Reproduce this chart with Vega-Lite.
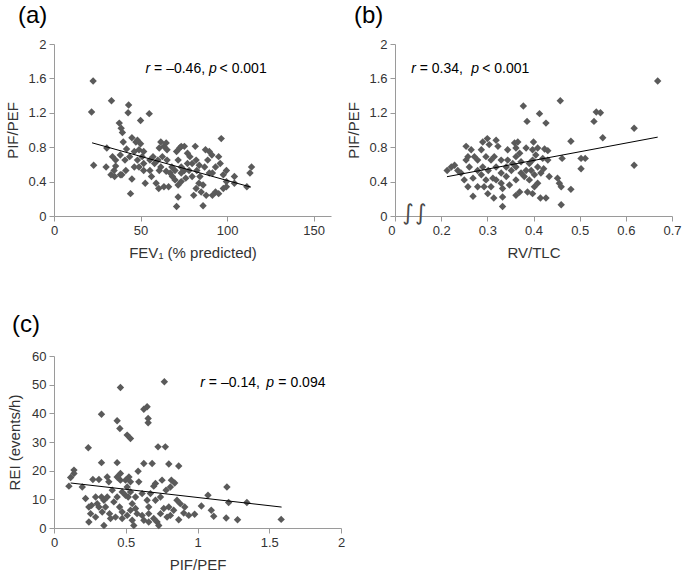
{
  "$schema": "https://vega.github.io/schema/vega-lite/v6.json",
  "padding": {"left": 5, "top": 4, "right": 2, "bottom": 5},
  "background": "white",
  "config": {
    "font": "Liberation Sans",
    "view": {"stroke": null},
    "axis": {"grid": false, "domainColor": "#9a9a9a", "tickColor": "#9a9a9a", "labelColor": "#333333", "titleColor": "#333333", "labelFontSize": 13, "titleFontSize": 15, "titleFontWeight": "normal", "labelFont": "Liberation Sans", "titleFont": "Liberation Sans", "tickSize": 5, "labelPadding": 3, "labelFlush": false, "labelOverlap": false, "labelBound": false, "tickCount": 20},
    "title": {"fontSize": 24, "fontWeight": "normal", "font": "Liberation Sans", "color": "#000000", "anchor": "start", "frame": "group"}
  },
  "datasets": {
    "a": [
      {"fev1":22.6,"ratio":1.57},{"fev1":21.7,"ratio":1.21},{"fev1":33.2,"ratio":1.34},{"fev1":43.1,"ratio":1.29},{"fev1":42.8,"ratio":1.20},{"fev1":50,"ratio":1.11},{"fev1":55,"ratio":1.19},{"fev1":37.7,"ratio":1.08},{"fev1":38.8,"ratio":1.02},{"fev1":39.5,"ratio":0.97},
      {"fev1":22.9,"ratio":0.59},{"fev1":30.1,"ratio":0.57},{"fev1":30.5,"ratio":0.79},{"fev1":35.6,"ratio":0.58},{"fev1":34.7,"ratio":0.53},{"fev1":35,"ratio":0.46},{"fev1":38.3,"ratio":0.48},{"fev1":41.5,"ratio":0.53},{"fev1":45,"ratio":0.43},{"fev1":44.2,"ratio":0.26},
      {"fev1":40,"ratio":0.86},{"fev1":45,"ratio":0.91},{"fev1":47.3,"ratio":0.86},{"fev1":48.2,"ratio":0.88},{"fev1":41.9,"ratio":0.78},{"fev1":43.7,"ratio":0.69},{"fev1":38.3,"ratio":0.71},{"fev1":33.8,"ratio":0.69},{"fev1":35.6,"ratio":0.65},{"fev1":46.4,"ratio":0.75},
      {"fev1":49.1,"ratio":0.77},{"fev1":51.8,"ratio":0.75},{"fev1":50.9,"ratio":0.69},{"fev1":48.2,"ratio":0.65},{"fev1":51.8,"ratio":0.61},{"fev1":46.4,"ratio":0.57},{"fev1":52.7,"ratio":0.38},{"fev1":55.4,"ratio":0.53},{"fev1":58.1,"ratio":0.61},{"fev1":57.2,"ratio":0.69},
      {"fev1":59,"ratio":0.38},{"fev1":60.5,"ratio":0.32},{"fev1":61.7,"ratio":0.86},{"fev1":60.8,"ratio":0.79},{"fev1":63.5,"ratio":0.81},{"fev1":64.8,"ratio":0.85},{"fev1":65.3,"ratio":0.77},{"fev1":62.6,"ratio":0.69},{"fev1":65.3,"ratio":0.65},{"fev1":61.7,"ratio":0.57},
      {"fev1":64.8,"ratio":0.52},{"fev1":63.5,"ratio":0.34},{"fev1":66.2,"ratio":0.34},{"fev1":68.4,"ratio":0.46},{"fev1":69.9,"ratio":0.53},{"fev1":71.7,"ratio":0.65},{"fev1":70.8,"ratio":0.75},{"fev1":72.6,"ratio":0.79},{"fev1":73.5,"ratio":0.81},{"fev1":75.3,"ratio":0.81},
      {"fev1":77.1,"ratio":0.73},{"fev1":73.5,"ratio":0.57},{"fev1":69.9,"ratio":0.42},{"fev1":71.7,"ratio":0.36},{"fev1":73.5,"ratio":0.40},{"fev1":76.1,"ratio":0.44},{"fev1":71.7,"ratio":0.22},{"fev1":70.8,"ratio":0.11},{"fev1":78,"ratio":0.53},{"fev1":79.8,"ratio":0.61},
      {"fev1":82.1,"ratio":0.65},{"fev1":81.6,"ratio":0.81},{"fev1":82.5,"ratio":0.53},{"fev1":84.3,"ratio":0.46},{"fev1":82.1,"ratio":0.32},{"fev1":80.7,"ratio":0.24},{"fev1":86.1,"ratio":0.12},{"fev1":86.1,"ratio":0.36},{"fev1":87,"ratio":0.57},{"fev1":87.5,"ratio":0.77},
      {"fev1":89.7,"ratio":0.75},{"fev1":91.2,"ratio":0.71},{"fev1":88.8,"ratio":0.65},{"fev1":89.7,"ratio":0.50},{"fev1":87.9,"ratio":0.24},{"fev1":93.3,"ratio":0.28},{"fev1":91.5,"ratio":0.24},{"fev1":95.1,"ratio":0.26},{"fev1":96.6,"ratio":0.90},{"fev1":95.1,"ratio":0.69},
      {"fev1":96,"ratio":0.61},{"fev1":93.3,"ratio":0.57},{"fev1":97.8,"ratio":0.32},{"fev1":99.6,"ratio":0.34},{"fev1":99.6,"ratio":0.53},{"fev1":104.2,"ratio":0.46},{"fev1":111.4,"ratio":0.34},{"fev1":113.2,"ratio":0.50},{"fev1":114.1,"ratio":0.57},{"fev1":99.6,"ratio":0.40},
      {"fev1":97.8,"ratio":0.48},{"fev1":56.3,"ratio":0.46},{"fev1":60.8,"ratio":0.53},{"fev1":49.1,"ratio":0.57},{"fev1":51.8,"ratio":0.53},{"fev1":39.2,"ratio":0.48},{"fev1":32.9,"ratio":0.48},{"fev1":41,"ratio":0.65},{"fev1":50,"ratio":0.84},{"fev1":75.3,"ratio":0.53},
      {"fev1":73.5,"ratio":0.50},{"fev1":79.8,"ratio":0.46},{"fev1":83.7,"ratio":0.38},{"fev1":85,"ratio":0.28},{"fev1":68.1,"ratio":0.57},{"fev1":67.1,"ratio":0.50},{"fev1":55.4,"ratio":0.65},{"fev1":60,"ratio":0.65},{"fev1":78.5,"ratio":0.69},{"fev1":83.9,"ratio":0.59},
      {"fev1":104.2,"ratio":0.38},{"fev1":91.5,"ratio":0.50},{"fev1":77.1,"ratio":0.61}
    ],
    "aLine": [{"fev1":22.0,"ratio":0.851},{"fev1":113.7,"ratio":0.336}],
    "aAnn": [{"fev1":52.9,"ratio":1.66,"s1":"r","s2":"= \u20130.46,","s3":"p","s4":"< 0.001"}],
    "b": [
      {"rvtlc":0.669,"ratio":1.57},{"rvtlc":0.458,"ratio":1.34},{"rvtlc":0.378,"ratio":1.28},{"rvtlc":0.413,"ratio":1.19},{"rvtlc":0.386,"ratio":1.10},{"rvtlc":0.427,"ratio":1.08},{"rvtlc":0.536,"ratio":1.21},{"rvtlc":0.545,"ratio":1.20},{"rvtlc":0.531,"ratio":1.10},{"rvtlc":0.618,"ratio":1.02},
      {"rvtlc":0.55,"ratio":0.91},{"rvtlc":0.481,"ratio":0.87},{"rvtlc":0.618,"ratio":0.59},{"rvtlc":0.503,"ratio":0.67},{"rvtlc":0.512,"ratio":0.67},{"rvtlc":0.503,"ratio":0.55},{"rvtlc":0.462,"ratio":0.67},{"rvtlc":0.213,"ratio":0.53},{"rvtlc":0.229,"ratio":0.59},{"rvtlc":0.236,"ratio":0.53},
      {"rvtlc":0.243,"ratio":0.50},{"rvtlc":0.254,"ratio":0.81},{"rvtlc":0.258,"ratio":0.69},{"rvtlc":0.254,"ratio":0.65},{"rvtlc":0.261,"ratio":0.57},{"rvtlc":0.269,"ratio":0.44},{"rvtlc":0.258,"ratio":0.34},{"rvtlc":0.269,"ratio":0.23},{"rvtlc":0.29,"ratio":0.86},{"rvtlc":0.3,"ratio":0.90},
      {"rvtlc":0.287,"ratio":0.77},{"rvtlc":0.297,"ratio":0.69},{"rvtlc":0.279,"ratio":0.65},{"rvtlc":0.29,"ratio":0.57},{"rvtlc":0.302,"ratio":0.53},{"rvtlc":0.287,"ratio":0.48},{"rvtlc":0.297,"ratio":0.42},{"rvtlc":0.293,"ratio":0.34},{"rvtlc":0.308,"ratio":0.34},{"rvtlc":0.314,"ratio":0.21},
      {"rvtlc":0.319,"ratio":0.88},{"rvtlc":0.323,"ratio":0.81},{"rvtlc":0.315,"ratio":0.69},{"rvtlc":0.33,"ratio":0.65},{"rvtlc":0.319,"ratio":0.57},{"rvtlc":0.33,"ratio":0.50},{"rvtlc":0.319,"ratio":0.42},{"rvtlc":0.33,"ratio":0.38},{"rvtlc":0.333,"ratio":0.32},{"rvtlc":0.333,"ratio":0.22},
      {"rvtlc":0.333,"ratio":0.11},{"rvtlc":0.344,"ratio":0.77},{"rvtlc":0.344,"ratio":0.65},{"rvtlc":0.352,"ratio":0.53},{"rvtlc":0.341,"ratio":0.46},{"rvtlc":0.359,"ratio":0.85},{"rvtlc":0.366,"ratio":0.86},{"rvtlc":0.362,"ratio":0.79},{"rvtlc":0.37,"ratio":0.73},{"rvtlc":0.362,"ratio":0.69},
      {"rvtlc":0.373,"ratio":0.63},{"rvtlc":0.362,"ratio":0.57},{"rvtlc":0.373,"ratio":0.50},{"rvtlc":0.362,"ratio":0.42},{"rvtlc":0.37,"ratio":0.28},{"rvtlc":0.362,"ratio":0.24},{"rvtlc":0.384,"ratio":0.53},{"rvtlc":0.38,"ratio":0.46},{"rvtlc":0.391,"ratio":0.61},{"rvtlc":0.4,"ratio":0.86},
      {"rvtlc":0.398,"ratio":0.77},{"rvtlc":0.409,"ratio":0.79},{"rvtlc":0.405,"ratio":0.71},{"rvtlc":0.398,"ratio":0.65},{"rvtlc":0.395,"ratio":0.53},{"rvtlc":0.402,"ratio":0.48},{"rvtlc":0.391,"ratio":0.42},{"rvtlc":0.402,"ratio":0.34},{"rvtlc":0.409,"ratio":0.38},{"rvtlc":0.398,"ratio":0.26},
      {"rvtlc":0.415,"ratio":0.21},{"rvtlc":0.427,"ratio":0.21},{"rvtlc":0.422,"ratio":0.55},{"rvtlc":0.424,"ratio":0.78},{"rvtlc":0.431,"ratio":0.76},{"rvtlc":0.42,"ratio":0.67},{"rvtlc":0.452,"ratio":0.44},{"rvtlc":0.456,"ratio":0.38},{"rvtlc":0.46,"ratio":0.34},{"rvtlc":0.481,"ratio":0.31},
      {"rvtlc":0.46,"ratio":0.13},{"rvtlc":0.272,"ratio":0.69},{"rvtlc":0.279,"ratio":0.53},{"rvtlc":0.308,"ratio":0.65},{"rvtlc":0.341,"ratio":0.57},{"rvtlc":0.312,"ratio":0.44},{"rvtlc":0.25,"ratio":0.42},{"rvtlc":0.416,"ratio":0.50},{"rvtlc":0.434,"ratio":0.46},{"rvtlc":0.348,"ratio":0.36},
      {"rvtlc":0.355,"ratio":0.61},{"rvtlc":0.304,"ratio":0.83},{"rvtlc":0.384,"ratio":0.79},{"rvtlc":0.409,"ratio":0.57},{"rvtlc":0.431,"ratio":0.65},{"rvtlc":0.301,"ratio":0.26},{"rvtlc":0.222,"ratio":0.57},{"rvtlc":0.265,"ratio":0.77},{"rvtlc":0.387,"ratio":0.28},{"rvtlc":0.279,"ratio":0.34}
    ],
    "bLine": [{"rvtlc":0.2126,"ratio":0.457},{"rvtlc":0.669,"ratio":0.917}],
    "bAnn": [{"rvtlc":0.135,"ratio":1.66,"s1":"r","s2":"= 0.34,","s3":"p","s4":"< 0.001"}],
    "bBreak": [{"rvtlc":0.128,"ratio":0.04,"sym":"\u222b"},{"rvtlc":0.156,"ratio":0.04,"sym":"\u222b"}],
    "c": [
      {"ratio":0.769,"rei":51.0},{"ratio":0.463,"rei":49.0},{"ratio":0.331,"rei":39.7},{"ratio":0.44,"rei":37.4},{"ratio":0.459,"rei":34.7},{"ratio":0.51,"rei":32.4},{"ratio":0.533,"rei":31.2},{"ratio":0.626,"rei":41.4},{"ratio":0.649,"rei":42.3},{"ratio":0.656,"rei":38.2},
      {"ratio":0.656,"rei":36.7},{"ratio":0.239,"rei":28.0},{"ratio":0.725,"rei":28.3},{"ratio":0.776,"rei":28.3},{"ratio":0.331,"rei":22.8},{"ratio":0.44,"rei":22.8},{"ratio":0.626,"rei":22.5},{"ratio":0.684,"rei":22.5},{"ratio":0.8,"rei":22.3},{"ratio":0.869,"rei":21.6},
      {"ratio":0.139,"rei":20.2},{"ratio":0.139,"rei":19.0},{"ratio":0.586,"rei":19.8},{"ratio":0.463,"rei":19.0},{"ratio":0.116,"rei":17.6},{"ratio":0.271,"rei":16.9},{"ratio":0.313,"rei":16.9},{"ratio":0.371,"rei":17.8},{"ratio":0.382,"rei":16.1},{"ratio":0.44,"rei":17.8},
      {"ratio":0.463,"rei":16.7},{"ratio":0.522,"rei":17.8},{"ratio":0.498,"rei":16.7},{"ratio":0.533,"rei":16.1},{"ratio":0.104,"rei":14.6},{"ratio":0.197,"rei":14.3},{"ratio":0.695,"rei":14.6},{"ratio":0.707,"rei":15.5},{"ratio":0.818,"rei":16.7},{"ratio":0.841,"rei":15.7},
      {"ratio":0.811,"rei":14.3},{"ratio":0.781,"rei":13.2},{"ratio":0.753,"rei":16.7},{"ratio":1.205,"rei":14.3},{"ratio":1.073,"rei":11.4},{"ratio":1.344,"rei":8.9},{"ratio":1.217,"rei":8.9},{"ratio":1.583,"rei":3.0},{"ratio":1.279,"rei":2.9},{"ratio":1.2,"rei":3.5},
      {"ratio":1.113,"rei":4.1},{"ratio":1.096,"rei":6.2},{"ratio":1.027,"rei":7.7},{"ratio":0.98,"rei":4.8},{"ratio":0.911,"rei":7.3},{"ratio":0.904,"rei":5.2},{"ratio":0.869,"rei":2.9},{"ratio":0.857,"rei":9.7},{"ratio":0.88,"rei":8.5},{"ratio":0.834,"rei":6.2},
      {"ratio":0.811,"rei":4.4},{"ratio":0.765,"rei":6.8},{"ratio":0.742,"rei":5.0},{"ratio":0.718,"rei":2.1},{"ratio":0.73,"rei":0.9},{"ratio":0.695,"rei":3.3},{"ratio":0.707,"rei":9.7},{"ratio":0.66,"rei":7.3},{"ratio":0.66,"rei":5.0},{"ratio":0.626,"rei":2.7},
      {"ratio":0.614,"rei":4.4},{"ratio":0.649,"rei":9.7},{"ratio":0.614,"rei":12.0},{"ratio":0.568,"rei":6.8},{"ratio":0.556,"rei":0.9},{"ratio":0.579,"rei":5.0},{"ratio":0.533,"rei":6.2},{"ratio":0.545,"rei":8.5},{"ratio":0.517,"rei":10.8},{"ratio":0.533,"rei":12.6},
      {"ratio":0.51,"rei":14.3},{"ratio":0.475,"rei":12.6},{"ratio":0.44,"rei":10.8},{"ratio":0.417,"rei":9.1},{"ratio":0.457,"rei":7.3},{"ratio":0.475,"rei":3.3},{"ratio":0.429,"rei":3.8},{"ratio":0.387,"rei":5.0},{"ratio":0.394,"rei":3.3},{"ratio":0.348,"rei":0.9},
      {"ratio":0.336,"rei":5.6},{"ratio":0.29,"rei":3.8},{"ratio":0.243,"rei":2.1},{"ratio":0.255,"rei":5.0},{"ratio":0.262,"rei":7.9},{"ratio":0.301,"rei":8.5},{"ratio":0.331,"rei":10.8},{"ratio":0.348,"rei":9.7},{"ratio":0.371,"rei":10.8},{"ratio":0.29,"rei":10.8},
      {"ratio":0.22,"rei":10.3},{"ratio":0.243,"rei":7.3},{"ratio":0.406,"rei":13.2},{"ratio":0.591,"rei":16.1},{"ratio":0.498,"rei":11.4},{"ratio":0.545,"rei":2.7},{"ratio":0.51,"rei":4.4},{"ratio":0.66,"rei":2.1},{"ratio":0.788,"rei":3.8},{"ratio":0.939,"rei":4.4},
      {"ratio":0.568,"rei":10.8},{"ratio":0.742,"rei":10.8},{"ratio":0.8,"rei":7.3},{"ratio":0.672,"rei":12.0},{"ratio":0.313,"rei":7.3},{"ratio":0.359,"rei":7.3},{"ratio":0.475,"rei":5.6}
    ],
    "cLine": [{"ratio":0.116,"rei":15.7},{"ratio":1.586,"rei":7.3}],
    "cAnn": [{"ratio":1.02,"rei":49.3,"s1":"r","s2":"= \u20130.14,","s3":"p","s4":"= 0.094"}]
  },
  "columns": 2,
  "bounds": "flush",
  "align": "none",
  "spacing": {"row": 140, "column": 54},
  "concat": [
    {
      "width": 277, "height": 172,
      "title": {"text": "(a)", "dx": -36, "offset": 10},
      "layer": [
        {"data": {"name": "a"}, "mark": {"type": "point", "shape": "diamond", "filled": true, "size": 55, "color": "#5a5a5a", "opacity": 1},
         "encoding": {
           "x": {"field": "fev1", "type": "quantitative", "scale": {"domain": [0, 150]}, "axis": {"values": [0, 50, 100, 150], "tickCount": 20, "labelOverlap": false, "title": "FEV\u2081 (% predicted)", "titlePadding": 8}},
           "y": {"field": "ratio", "type": "quantitative", "scale": {"domain": [0, 2]}, "axis": {"values": [0, 0.4, 0.8, 1.2, 1.6, 2], "tickCount": 20, "labelOverlap": false, "format": "~g", "title": "PIF/PEF", "titlePadding": 7}}
         }},
        {"data": {"name": "aLine"}, "mark": {"type": "line", "color": "#000000", "strokeWidth": 1},
         "encoding": {"x": {"field": "fev1", "type": "quantitative"}, "y": {"field": "ratio", "type": "quantitative"}}},
        {"data": {"name": "aAnn"}, "mark": {"type": "text", "align": "left", "baseline": "alphabetic", "fontSize": 14, "fontStyle": "italic", "color": "#000000", "dx": 0},
         "encoding": {"x": {"field": "fev1", "type": "quantitative"}, "y": {"field": "ratio", "type": "quantitative"}, "text": {"field": "s1"}}},
        {"data": {"name": "aAnn"}, "mark": {"type": "text", "align": "left", "baseline": "alphabetic", "fontSize": 14, "color": "#000000", "dx": 8.5},
         "encoding": {"x": {"field": "fev1", "type": "quantitative"}, "y": {"field": "ratio", "type": "quantitative"}, "text": {"field": "s2"}}},
        {"data": {"name": "aAnn"}, "mark": {"type": "text", "align": "left", "baseline": "alphabetic", "fontSize": 14, "fontStyle": "italic", "color": "#000000", "dx": 63.5},
         "encoding": {"x": {"field": "fev1", "type": "quantitative"}, "y": {"field": "ratio", "type": "quantitative"}, "text": {"field": "s3"}}},
        {"data": {"name": "aAnn"}, "mark": {"type": "text", "align": "left", "baseline": "alphabetic", "fontSize": 14, "color": "#000000", "dx": 74},
         "encoding": {"x": {"field": "fev1", "type": "quantitative"}, "y": {"field": "ratio", "type": "quantitative"}, "text": {"field": "s4"}}}
      ]
    },
    {
      "width": 277, "height": 172,
      "title": {"text": "(b)", "dx": -41, "offset": 10},
      "layer": [
        {"data": {"name": "b"}, "mark": {"type": "point", "shape": "diamond", "filled": true, "size": 55, "color": "#5a5a5a", "opacity": 1},
         "encoding": {
           "x": {"field": "rvtlc", "type": "quantitative", "scale": {"domain": [0.1, 0.7], "nice": false, "zero": false}, "axis": {"values": [0.1, 0.2, 0.3, 0.4, 0.5, 0.6, 0.7], "tickCount": 20, "labelOverlap": false, "labelAlign": {"condition": {"test": "datum.value < 0.15", "value": "right"}, "value": "center"}, "labelExpr": "datum.value < 0.15 ? '0' : format(datum.value, '.1f')", "title": "RV/TLC", "titlePadding": 8}},
           "y": {"field": "ratio", "type": "quantitative", "scale": {"domain": [0, 2]}, "axis": {"values": [0, 0.4, 0.8, 1.2, 1.6, 2], "tickCount": 20, "labelOverlap": false, "format": "~g", "title": "PIF/PEF", "titlePadding": 7}}
         }},
        {"data": {"name": "bLine"}, "mark": {"type": "line", "color": "#000000", "strokeWidth": 1},
         "encoding": {"x": {"field": "rvtlc", "type": "quantitative"}, "y": {"field": "ratio", "type": "quantitative"}}},
        {"data": {"name": "bBreak"}, "mark": {"type": "text", "align": "center", "baseline": "middle", "font": "DejaVu Sans", "fontSize": 22, "color": "#4a4a4a"},
         "encoding": {"x": {"field": "rvtlc", "type": "quantitative"}, "y": {"field": "ratio", "type": "quantitative"}, "text": {"field": "sym"}}},
        {"data": {"name": "bAnn"}, "mark": {"type": "text", "align": "left", "baseline": "alphabetic", "fontSize": 14, "fontStyle": "italic", "color": "#000000", "dx": 0},
         "encoding": {"x": {"field": "rvtlc", "type": "quantitative"}, "y": {"field": "ratio", "type": "quantitative"}, "text": {"field": "s1"}}},
        {"data": {"name": "bAnn"}, "mark": {"type": "text", "align": "left", "baseline": "alphabetic", "fontSize": 14, "color": "#000000", "dx": 8.5},
         "encoding": {"x": {"field": "rvtlc", "type": "quantitative"}, "y": {"field": "ratio", "type": "quantitative"}, "text": {"field": "s2"}}},
        {"data": {"name": "bAnn"}, "mark": {"type": "text", "align": "left", "baseline": "alphabetic", "fontSize": 14, "fontStyle": "italic", "color": "#000000", "dx": 60},
         "encoding": {"x": {"field": "rvtlc", "type": "quantitative"}, "y": {"field": "ratio", "type": "quantitative"}, "text": {"field": "s3"}}},
        {"data": {"name": "bAnn"}, "mark": {"type": "text", "align": "left", "baseline": "alphabetic", "fontSize": 14, "color": "#000000", "dx": 71},
         "encoding": {"x": {"field": "rvtlc", "type": "quantitative"}, "y": {"field": "ratio", "type": "quantitative"}, "text": {"field": "s4"}}}
      ]
    },
    {
      "width": 287, "height": 172,
      "title": {"text": "(c)", "dx": -42, "offset": 13},
      "layer": [
        {"data": {"name": "c"}, "mark": {"type": "point", "shape": "diamond", "filled": true, "size": 55, "color": "#5a5a5a", "opacity": 1},
         "encoding": {
           "x": {"field": "ratio", "type": "quantitative", "scale": {"domain": [0, 2]}, "axis": {"values": [0, 0.5, 1, 1.5, 2], "tickCount": 20, "labelOverlap": false, "format": "~g", "title": "PIF/PEF", "titlePadding": 8}},
           "y": {"field": "rei", "type": "quantitative", "scale": {"domain": [0, 60]}, "axis": {"values": [0, 10, 20, 30, 40, 50, 60], "tickCount": 20, "labelOverlap": false, "title": "REI (events/h)", "titlePadding": 9}}
         }},
        {"data": {"name": "cLine"}, "mark": {"type": "line", "color": "#000000", "strokeWidth": 1},
         "encoding": {"x": {"field": "ratio", "type": "quantitative"}, "y": {"field": "rei", "type": "quantitative"}}},
        {"data": {"name": "cAnn"}, "mark": {"type": "text", "align": "left", "baseline": "alphabetic", "fontSize": 14, "fontStyle": "italic", "color": "#000000", "dx": 0},
         "encoding": {"x": {"field": "ratio", "type": "quantitative"}, "y": {"field": "rei", "type": "quantitative"}, "text": {"field": "s1"}}},
        {"data": {"name": "cAnn"}, "mark": {"type": "text", "align": "left", "baseline": "alphabetic", "fontSize": 14, "color": "#000000", "dx": 8.5},
         "encoding": {"x": {"field": "ratio", "type": "quantitative"}, "y": {"field": "rei", "type": "quantitative"}, "text": {"field": "s2"}}},
        {"data": {"name": "cAnn"}, "mark": {"type": "text", "align": "left", "baseline": "alphabetic", "fontSize": 14, "fontStyle": "italic", "color": "#000000", "dx": 66},
         "encoding": {"x": {"field": "ratio", "type": "quantitative"}, "y": {"field": "rei", "type": "quantitative"}, "text": {"field": "s3"}}},
        {"data": {"name": "cAnn"}, "mark": {"type": "text", "align": "left", "baseline": "alphabetic", "fontSize": 14, "color": "#000000", "dx": 78},
         "encoding": {"x": {"field": "ratio", "type": "quantitative"}, "y": {"field": "rei", "type": "quantitative"}, "text": {"field": "s4"}}}
      ]
    }
  ]
}
